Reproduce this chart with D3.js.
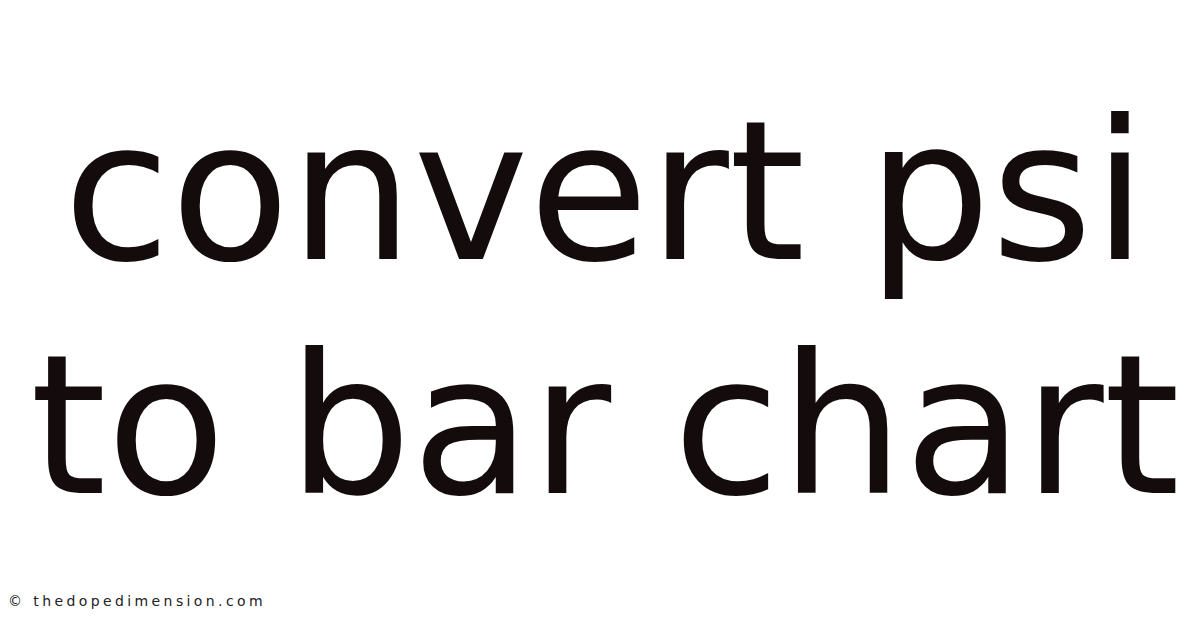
<!DOCTYPE html>
<html>
<head>
  <meta charset="UTF-8">
  <style>
    body { margin: 0; background: #fff; }
    svg { display: block; }
  </style>
</head>
<body>
<svg></svg>
<script src="https://d3js.org/d3.v7.min.js"></script>
<script>

let width = 1200, height = 628;

// text content
let titleLines = ["convert psi", "to bar chart"];
let footerText = ["\u00a9 thedopedimension.com"];

let svg = d3.select("svg")
    .attr("width", width)
    .attr("height", height)
    .attr("viewBox", "0 0 " + width + " " + height)

svg.append("rect")
    .attr("width", width)
    .attr("height", height)
    .attr("fill", "#ffffff")

// baseline of each title line
let y = d3.scalePoint()
    .domain(titleLines)
    .range([259, 493]);

svg.append("g")
    .attr("class", "title")
    .selectAll("text")
    .data(titleLines)
    .enter()
    .append("text")
    .attr("x", width / 2 + 5)
    .attr("y", d => y(d))
    .attr("text-anchor", "middle")
    .style("font-family", "'DejaVu Sans', sans-serif")
    .style("font-size", "195px")
    .style("fill", "#140c0c")
    .text(d => d)

svg.append("g")
    .attr("class", "footer")
    .selectAll("text")
    .data(footerText)
    .enter()
    .append("text")
    .attr("x", 8)
    .attr("y", 606)
    .style("font-family", "'DejaVu Sans', sans-serif")
    .style("font-size", "14px")
    .style("letter-spacing", "3.4px")
    .style("fill", "#222222")
    .text(d => d)

</script>
</body>
</html>
